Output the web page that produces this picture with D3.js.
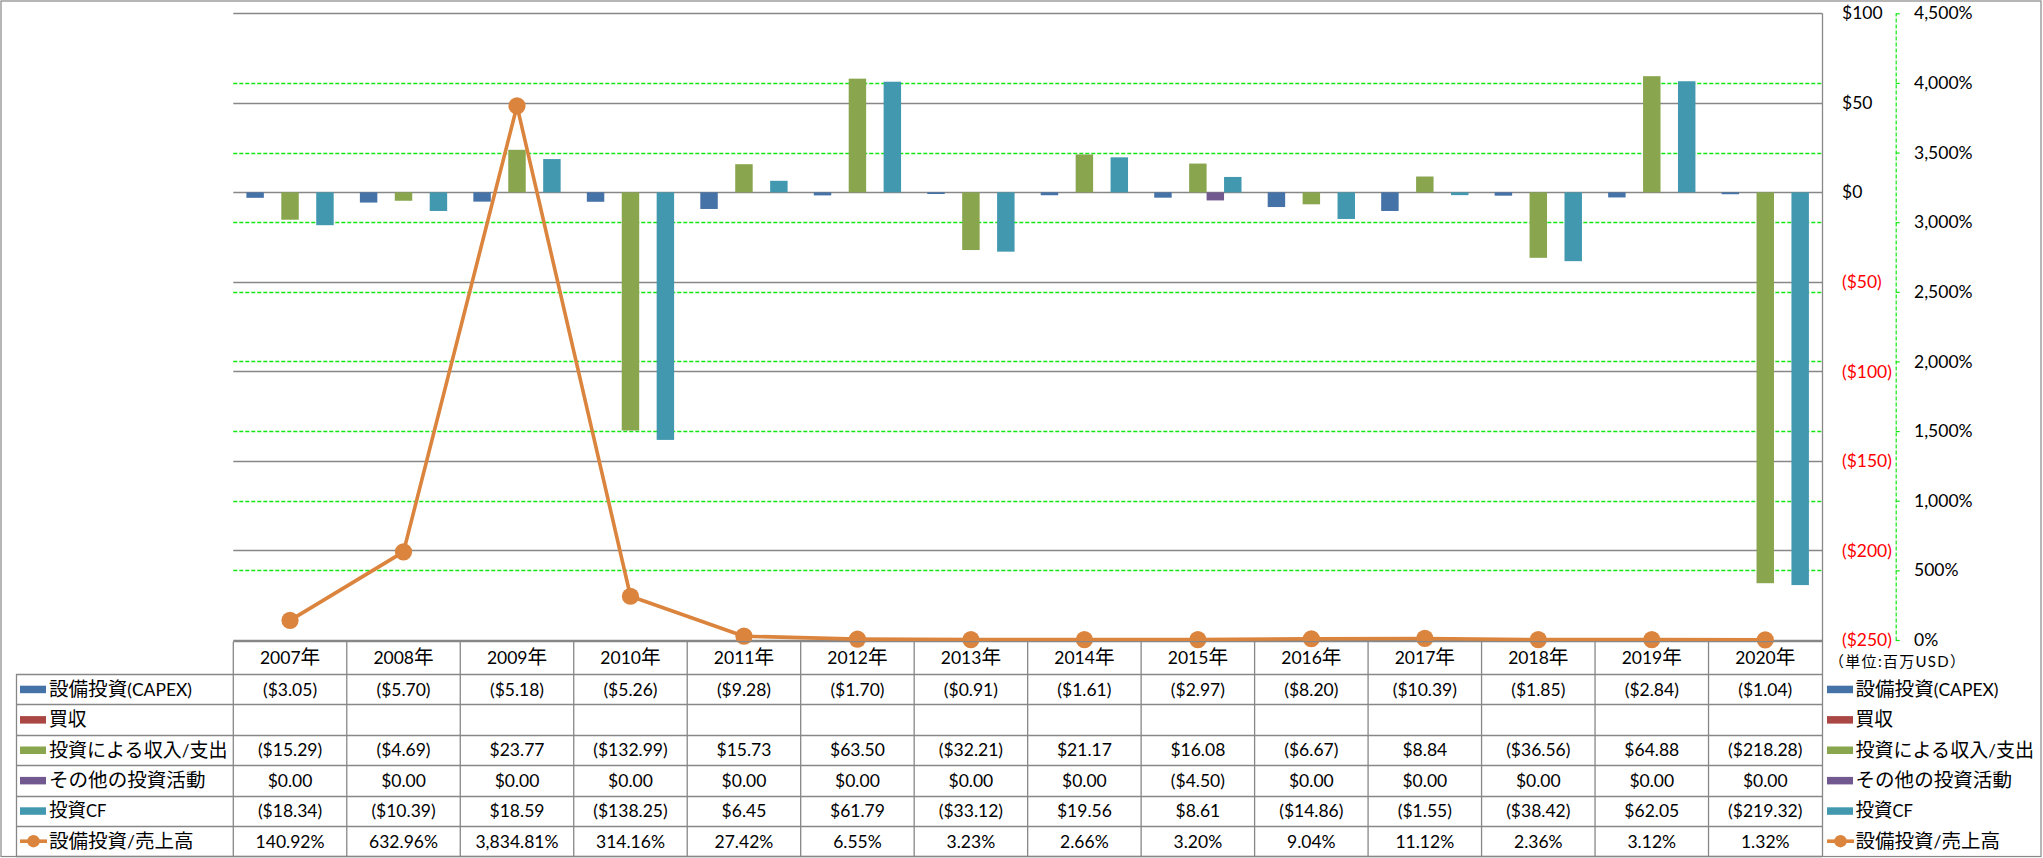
<!DOCTYPE html>
<html>
<head>
<meta charset="utf-8">
<script src="https://cdn.jsdelivr.net/npm/d3@7"></script>
<style>
  html, body { margin: 0; padding: 0; background: #fff; }
  svg { display: block; }
</style>
</head>
<body>
<svg id="chart" width="2043" height="858"></svg>
<script>
// ---------------- DATA ----------------
const categories = ["2007年","2008年","2009年","2010年","2011年","2012年","2013年","2014年","2015年","2016年","2017年","2018年","2019年","2020年"];
const seriesNames = ["設備投資(CAPEX)","買収","投資による収入/支出","その他の投資活動","投資CF"];
const capex      = [-3.05,-5.70,-5.18,-5.26,-9.28,-1.70,-0.91,-1.61,-2.97,-8.20,-10.39,-1.85,-2.84,-1.04];
const acquisition= [null,null,null,null,null,null,null,null,null,null,null,null,null,null];
const investInOut= [-15.29,-4.69,23.77,-132.99,15.73,63.50,-32.21,21.17,16.08,-6.67,8.84,-36.56,64.88,-218.28];
const otherInvest= [0,0,0,0,0,0,0,0,-4.50,0,0,0,0,0];
const investCF   = [-18.34,-10.39,18.59,-138.25,6.45,61.79,-33.12,19.56,8.61,-14.86,-1.55,-38.42,62.05,-219.32];
const lineName   = "設備投資/売上高";
const capexRatio = [140.92,632.96,3834.81,314.16,27.42,6.55,3.23,2.66,3.20,9.04,11.12,2.36,3.12,1.32];
const dollarTicks = [100,50,0,-50,-100,-150,-200,-250];
const pctTicks = [0,500,1000,1500,2000,2500,3000,3500,4000,4500];
const unitLabel = "（単位:百万USD）";

const seriesData = [capex, acquisition, investInOut, otherInvest, investCF];
const seriesColors = ["#4572A7","#AA4643","#89A54E","#71588F","#4198AF"];
const lineColor = "#DB843D";

// ---------------- LAYOUT ----------------
const W = 2043, H = 858;
const plotL = 233.3, plotR = 1822, plotT = 13.3, plotB = 640;
const headerTop = 641.7, rowTop = 674, rowH = 30.4;
const tableL = 16;
const gridGray = "#878787";
const green = "#12e612";
// rendered widths of the legend labels (as seen in the reference)
const labelWidths = [143, 37.5, 178.5, 156.5, 57.5, 144.5];

const svg = d3.select("#chart");

const x = d3.scaleBand().domain(categories).range([plotL, plotR]).paddingInner(0).paddingOuter(0);
const xs = d3.scaleBand().domain(d3.range(seriesNames.length)).range([0, x.bandwidth()]).paddingInner(0).paddingOuter(0.75);
const y = d3.scaleLinear().domain([-250, 100]).range([plotB, plotT]);
const yp = d3.scaleLinear().domain([0, 4500]).range([plotB, plotT]);

// outer border
svg.append("rect").attr("x", 1).attr("y", 1).attr("width", W - 3).attr("height", H - 2.5)
  .attr("fill", "none").attr("stroke", gridGray).attr("stroke-width", 1.2);

// secondary gridlines (green dashed)
svg.append("g").selectAll("line")
  .data(pctTicks.filter(v => v > 0 && v < 4500))
  .join("line")
  .attr("x1", plotL).attr("x2", plotR)
  .attr("y1", d => Math.round(yp(d)) + 0.5).attr("y2", d => Math.round(yp(d)) + 0.5)
  .attr("stroke", green).attr("stroke-width", 1.3).attr("stroke-dasharray", "4,2");

// primary gridlines (gray)
svg.append("g").selectAll("line")
  .data(dollarTicks)
  .join("line")
  .attr("x1", plotL).attr("x2", plotR)
  .attr("y1", d => Math.round(y(d)) + 0.5).attr("y2", d => Math.round(y(d)) + 0.5)
  .attr("stroke", gridGray).attr("stroke-width", 1.3);

// bars
const barG = svg.append("g");
seriesData.forEach((arr, si) => {
  barG.append("g").selectAll("rect")
    .data(arr.map((v, i) => ({ v, c: categories[i] })).filter(d => d.v !== null && d.v !== 0))
    .join("rect")
    .attr("x", d => x(d.c) + xs(si))
    .attr("width", xs.bandwidth())
    .attr("y", d => y(Math.max(0, d.v)))
    .attr("height", d => Math.abs(y(d.v) - y(0)))
    .attr("fill", seriesColors[si]);
});

// line series
const lineGen = d3.line()
  .x((d, i) => x(categories[i]) + x.bandwidth() / 2)
  .y(d => yp(d));
svg.append("path").datum(capexRatio)
  .attr("d", lineGen)
  .attr("fill", "none").attr("stroke", lineColor).attr("stroke-width", 3.6)
  .attr("stroke-linejoin", "round");
svg.append("g").selectAll("circle")
  .data(capexRatio)
  .join("circle")
  .attr("cx", (d, i) => x(categories[i]) + x.bandwidth() / 2)
  .attr("cy", d => yp(d))
  .attr("r", 8.6)
  .attr("fill", lineColor);

// plot right border (through table)
svg.append("line").attr("x1", plotR + 0.5).attr("x2", plotR + 0.5)
  .attr("y1", plotT).attr("y2", rowTop + rowH * 6)
  .attr("stroke", gridGray).attr("stroke-width", 1.3);

// dollar axis
const fmtDollar = v => v < 0 ? `($${-v})` : `$${v}`;
const axD = svg.append("g").attr("transform", `translate(${plotR},0)`)
  .call(d3.axisRight(y).tickValues(dollarTicks).tickFormat(fmtDollar).tickSize(0).tickPadding(20));
axD.select(".domain").remove();
axD.selectAll("text")
  .attr("font-family", "Lato").attr("font-size", 17.5)
  .attr("fill", d => d < 0 ? "#FF0000" : "#000");

// percent axis
const pctX = 1895.7;
const axP = svg.append("g").attr("transform", `translate(${pctX},0)`)
  .call(d3.axisRight(yp).tickValues(pctTicks).tickFormat(v => d3.format(",")(v) + "%").tickSizeInner(4).tickSizeOuter(0).tickPadding(14.3));
axP.select(".domain").attr("stroke", green).attr("stroke-width", 1.2).attr("stroke-dasharray", "4,2");
axP.selectAll(".tick line").attr("stroke", green).attr("stroke-width", 1.2);
axP.selectAll("text").attr("font-family", "Lato").attr("font-size", 17.5).attr("fill", "#000");

// ---------------- DATA TABLE ----------------
const cjkRe = /([\u3000-\u30ff\u3400-\u9fff\uff00-\uffef]+)/;
function mixedText(sel, str, latinSize, cjkSize) {
  str.split(cjkRe).filter(s => s.length).forEach(part => {
    const isCjk = cjkRe.test(part);
    sel.append("tspan").text(part)
      .style("font-family", isCjk ? "'Noto Sans CJK JP', 'Noto Sans CJK SC', sans-serif" : "Lato")
      .style("font-size", (isCjk ? cjkSize : latinSize) + "px");
  });
}

const tbl = svg.append("g");
const nRows = seriesNames.length + 1;
tbl.append("line").attr("x1", plotL).attr("x2", plotR).attr("y1", headerTop).attr("y2", headerTop)
  .attr("stroke", gridGray).attr("stroke-width", 1.3);
d3.range(nRows + 1).forEach(r => {
  const yy = Math.round(rowTop + r * rowH) + 0.5;
  tbl.append("line").attr("x1", tableL).attr("x2", plotR).attr("y1", yy).attr("y2", yy)
    .attr("stroke", gridGray).attr("stroke-width", 1.3);
});
tbl.append("line").attr("x1", tableL + 0.5).attr("x2", tableL + 0.5).attr("y1", rowTop).attr("y2", rowTop + rowH * nRows)
  .attr("stroke", gridGray).attr("stroke-width", 1.3);
categories.forEach(c => {
  tbl.append("line").attr("x1", x(c)).attr("x2", x(c)).attr("y1", headerTop).attr("y2", rowTop + rowH * nRows)
    .attr("stroke", gridGray).attr("stroke-width", 1.3);
});
categories.forEach(c => {
  const t = tbl.append("text").attr("x", x(c) + x.bandwidth() / 2).attr("y", (headerTop + rowTop) / 2 + 6.5)
    .attr("text-anchor", "middle").attr("fill", "#000");
  mixedText(t, c, 17.5, 19.6);
});
const fmtMoney = v => v === null ? "" : (v < 0 ? `($${d3.format(".2f")(-v)})` : `$${d3.format(".2f")(v)}`);
const fmtPct = v => d3.format(",.2f")(v) + "%";
const allRows = seriesData.map((arr, i) => ({ name: seriesNames[i], vals: arr.map(fmtMoney), color: seriesColors[i], line: false }))
  .concat([{ name: lineName, vals: capexRatio.map(fmtPct), color: lineColor, line: true }]);

function legendSymbol(g, cx0, cy, row) {
  if (row.line) {
    g.append("line").attr("x1", cx0).attr("x2", cx0 + 27).attr("y1", cy).attr("y2", cy)
      .attr("stroke", row.color).attr("stroke-width", 3.6);
    g.append("circle").attr("cx", cx0 + 13.5).attr("cy", cy).attr("r", 6.2).attr("fill", row.color);
  } else {
    g.append("rect").attr("x", cx0).attr("y", cy - 3.5).attr("width", 26).attr("height", 7.5).attr("fill", row.color);
  }
}

allRows.forEach((row, r) => {
  const cy = rowTop + r * rowH + rowH / 2;
  // left legend cell
  legendSymbol(tbl, 20, cy, row);
  const t = tbl.append("text").attr("x", 49).attr("y", cy + 6.5).attr("fill", "#000")
    .attr("textLength", labelWidths[r]).attr("lengthAdjust", "spacingAndGlyphs");
  mixedText(t, row.name, 17.5, 19.6);
  // values
  row.vals.forEach((v, i) => {
    tbl.append("text").attr("x", x(categories[i]) + x.bandwidth() / 2).attr("y", cy + 6.3)
      .attr("text-anchor", "middle").attr("font-family", "Lato").attr("font-size", 17.5)
      .attr("fill", "#000").text(v);
  });
  // right-side legend
  legendSymbol(tbl, 1827, cy, row);
  const t2 = tbl.append("text").attr("x", 1855.5).attr("y", cy + 6.5).attr("fill", "#000")
    .attr("textLength", labelWidths[r]).attr("lengthAdjust", "spacingAndGlyphs");
  mixedText(t2, row.name, 17.5, 19.6);
});

// unit label
const ut = svg.append("text").attr("x", 1829).attr("y", 667).attr("fill", "#000")
  .attr("textLength", 136).attr("lengthAdjust", "spacing");
mixedText(ut, unitLabel, 15, 15);
</script>
</body>
</html>
